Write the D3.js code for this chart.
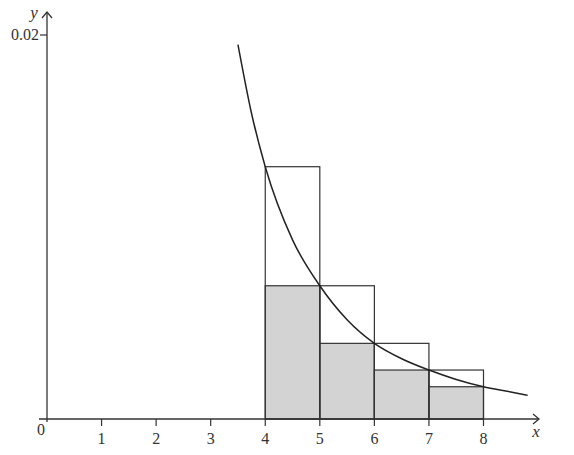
<!DOCTYPE html>
<html><head><meta charset="utf-8">
<script src="https://cdn.jsdelivr.net/npm/d3@7"></script>
<style>body{margin:0;background:#fff}svg{display:block}</style>
</head><body>
<script>
// Data
const xTicks = [1, 2, 3, 4, 5, 6, 7, 8];
const yTicks = [0.02];
const yTickLabels = ["0.02"];
const intervalStarts = [4, 5, 6, 7];
const upperHeights = [0.01314, 0.00694, 0.00394, 0.00255]; // left-endpoint heights
const lowerHeights = [0.00694, 0.00394, 0.00255, 0.00168]; // right-endpoint heights
const curveX = [3.5, 3.75, 4, 4.5, 5, 5.5, 6, 6.5, 7, 7.5, 8, 8.5, 8.81];
const curveY = [0.0195, 0.0159, 0.01314, 0.00933, 0.00694, 0.00517, 0.00394, 0.00314, 0.00255, 0.00206, 0.00168, 0.00141, 0.00123];

const W = 574, H = 455;
const svg = d3.select("body").append("svg").attr("width", W).attr("height", H);
const x = d3.scaleLinear().domain([0, 8]).range([47, 483.5]);
const y = d3.scaleLinear().domain([0, 0.02]).range([419, 35]);
const ink = "#333";
const font = "'Liberation Serif','Times New Roman',serif";

// shaded lower bars
svg.append("g").selectAll("rect").data(intervalStarts).join("rect")
  .attr("x", d => x(d)).attr("width", d => x(d + 1) - x(d))
  .attr("y", (d, i) => y(lowerHeights[i]))
  .attr("height", (d, i) => y(0) - y(lowerHeights[i]))
  .attr("fill", "#d3d3d3").attr("stroke", ink).attr("stroke-width", 1.2);

// upper outline bars
svg.append("g").selectAll("rect").data(intervalStarts).join("rect")
  .attr("x", d => x(d)).attr("width", d => x(d + 1) - x(d))
  .attr("y", (d, i) => y(upperHeights[i]))
  .attr("height", (d, i) => y(0) - y(upperHeights[i]))
  .attr("fill", "none").attr("stroke", ink).attr("stroke-width", 1.2);

// curve
const line = d3.line().x(d => x(d[0])).y(d => y(d[1])).curve(d3.curveMonotoneX);
svg.append("path").datum(curveX.map((v, i) => [v, curveY[i]]))
  .attr("d", line).attr("fill", "none").attr("stroke", "#222").attr("stroke-width", 1.5);

// axes
const ax = svg.append("g").attr("stroke", ink).attr("stroke-width", 1.3).attr("fill", "none");
ax.append("line").attr("x1", 39).attr("x2", 539).attr("y1", y(0)).attr("y2", y(0));
ax.append("line").attr("x1", x(0)).attr("x2", x(0)).attr("y1", 422).attr("y2", 12);
ax.append("path").attr("d", `M${533},${y(0) - 5}L${539},${y(0)}L${533},${y(0) + 5}`);
ax.append("path").attr("d", `M${x(0) - 5},${18}L${x(0)},${12}L${x(0) + 5},${18}`);

// x ticks
svg.append("g").selectAll("line").data(xTicks).join("line")
  .attr("x1", d => x(d)).attr("x2", d => x(d)).attr("y1", y(0)).attr("y2", y(0) + 7)
  .attr("stroke", ink).attr("stroke-width", 1.2);
svg.append("g").selectAll("text").data(xTicks).join("text")
  .attr("x", d => x(d)).attr("y", 444).attr("text-anchor", "middle")
  .attr("font-family", font).attr("font-size", 16).attr("fill", "#333").text(d => d);
svg.append("text").attr("x", 41).attr("y", 435).attr("text-anchor", "middle")
  .attr("font-family", font).attr("font-size", 16).attr("fill", "#333").text("0");

// y ticks
svg.append("g").selectAll("line").data(yTicks).join("line")
  .attr("x1", x(0) - 7).attr("x2", x(0)).attr("y1", d => y(d)).attr("y2", d => y(d))
  .attr("stroke", ink).attr("stroke-width", 1.2);
svg.append("g").selectAll("text").data(yTicks).join("text")
  .attr("x", 39).attr("y", d => y(d) + 5).attr("text-anchor", "end")
  .attr("font-family", font).attr("font-size", 16).attr("fill", "#333").text((d, i) => yTickLabels[i]);

// axis labels
svg.append("text").attr("x", 34).attr("y", 18).attr("text-anchor", "middle")
  .attr("font-family", font).attr("font-style", "italic").attr("font-size", 17).attr("fill", "#333").text("y");
svg.append("text").attr("x", 536).attr("y", 437).attr("text-anchor", "middle")
  .attr("font-family", font).attr("font-style", "italic").attr("font-size", 17).attr("fill", "#333").text("x");
</script>
</body></html>
